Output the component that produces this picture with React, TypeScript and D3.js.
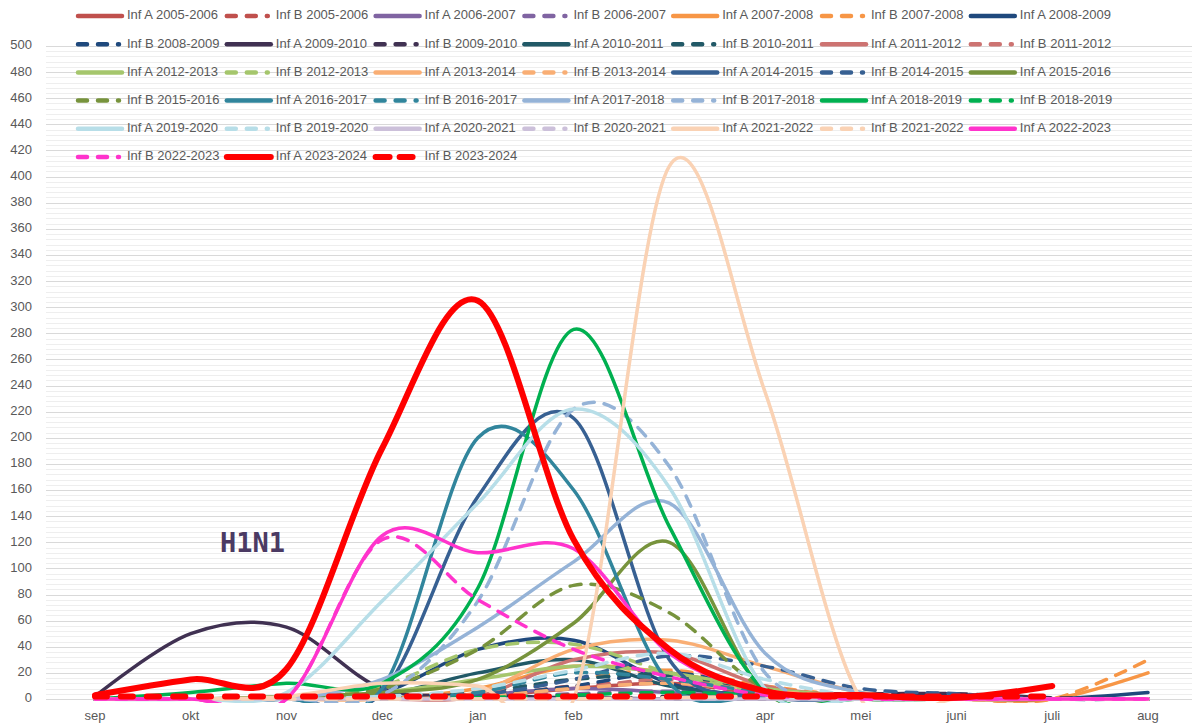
import React, { useEffect, useRef } from 'react';
import * as d3 from 'd3';

// months on the category axis (season runs sep -> aug)
const MONTHS = ['sep', 'okt', 'nov', 'dec', 'jan', 'feb', 'mrt', 'apr', 'mei', 'juni', 'juli', 'aug'];

const SEASONS = [
  '2005-2006', '2006-2007', '2007-2008', '2008-2009', '2009-2010', '2010-2011', '2011-2012',
  '2012-2013', '2013-2014', '2014-2015', '2015-2016', '2016-2017', '2017-2018', '2018-2019',
  '2019-2020', '2020-2021', '2021-2022', '2022-2023', '2023-2024',
];

const SEASON_COLORS = [
  '#C0504D', '#8064A2', '#F79646', '#1F497D', '#403152', '#215967', '#CD7371',
  '#A5C66C', '#F9AE74', '#376092', '#77933C', '#31859C', '#95B3D7', '#00B050',
  '#B7DEE8', '#CCC0DA', '#FAD2B4', '#FF33CC', '#FF0000',
];

const Y_TICKS = d3.range(0, 520, 20);

// values per month
const infA_0506 = [0, 0, 0, 0, 2, 8, 12, 5, 1, 0, 0, 0];
const infB_0506 = [0, 0, 0, 0, 1, 10, 12, 4, 1, 0, 0, 0];
const infA_0607 = [0, 0, 0, 0, 3, 8, 5, 1, 0, 0, 0, 0];
const infB_0607 = [0, 0, 0, 0, 1, 4, 6, 3, 1, 0, 0, 0];
const infA_0708 = [0, 0, 0, 0, 8, 25, 20, 8, 2, 0, 0, 20];
const infB_0708 = [0, 0, 0, 0, 3, 15, 22, 10, 2, 0, 0, 30];
const infA_0809 = [0, 0, 0, 5, 38, 45, 12, 2, 0, 0, 0, 5];
const infB_0809 = [0, 0, 0, 0, 2, 10, 20, 8, 2, 0, 0, 0];
const infA_0910 = [2, 50, 55, 8, 3, 1, 0, 0, 0, 0, 0, 0];
const infB_0910 = [0, 0, 0, 0, 0, 0, 2, 4, 4, 4, 1, 0];
const infA_1011 = [0, 0, 0, 3, 20, 30, 10, 2, 0, 0, 0, 0];
const infB_1011 = [0, 0, 0, 1, 5, 15, 18, 5, 1, 0, 0, 0];
const infA_1112 = [0, 0, 0, 0, 2, 30, 35, 10, 2, 0, 0, 0];
const infB_1112 = [0, 0, 0, 0, 1, 8, 15, 5, 1, 0, 0, 0];
const infA_1213 = [0, 0, 0, 5, 15, 25, 20, 8, 2, 0, 0, 0];
const infB_1213 = [0, 0, 0, 10, 38, 42, 20, 5, 1, 0, 0, 0];
const infA_1314 = [0, 0, 0, 0, 5, 38, 45, 25, 5, 0, 0, 0];
const infB_1314 = [0, 0, 0, 0, 2, 8, 12, 6, 2, 0, 0, 0];
const infA_1415 = [0, 0, 0, 5, 155, 215, 30, 2, 0, 0, 0, 0];
const infB_1415 = [0, 0, 0, 0, 3, 15, 33, 25, 8, 4, 0, 0];
const infA_1516 = [0, 0, 2, 5, 15, 58, 120, 5, 0, 0, 0, 0];
const infB_1516 = [0, 0, 0, 8, 38, 87, 66, 8, 0, 0, 0, 0];
const infA_1617 = [0, 0, 0, 8, 200, 160, 12, 2, 0, 0, 0, 0];
const infB_1617 = [0, 0, 0, 0, 5, 20, 15, 5, 1, 0, 0, 0];
const infA_1718 = [0, 0, 0, 15, 55, 105, 150, 35, 5, 0, 0, 0];
const infB_1718 = [0, 0, 0, 3, 75, 222, 178, 20, 2, 0, 0, 0];
const infA_1819 = [0, 5, 12, 12, 85, 283, 132, 6, 0, 0, 0, 0];
const infB_1819 = [0, 0, 0, 0, 1, 3, 5, 3, 1, 0, 0, 0];
const infA_1920 = [0, 0, 5, 75, 150, 222, 162, 8, 0, 0, 0, 0];
const infB_1920 = [0, 0, 0, 2, 8, 22, 35, 15, 2, 0, 0, 0];
const infA_2021 = [0, 0, 0, 0, 0, 0, 0, 0, 0, 0, 0, 0];
const infB_2021 = [0, 0, 0, 0, 0, 0, 0, 0, 0, 0, 0, 0];
const infA_2122 = [0, 0, 2, 12, 10, 0, 408, 235, 0, 0, 0, 0];
const infB_2122 = [0, 0, 0, 0, 0, 0, 1, 2, 1, 0, 0, 0];
const infA_2223 = [0, 0, 0, 125, 112, 115, 35, 6, 1, 0, 0, 0];
const infB_2223 = [0, 0, 0, 122, 76, 38, 17, 3, 0, 0, 0, 0];
const infA_2324 = [3, 15, 23, 192, 305, 122, 38, 6, 3, 1, 10];
const infB_2324 = [2, 2, 2, 2, 2, 2, 2, 2, 2, 2, 2];

const INF_A = [infA_0506, infA_0607, infA_0708, infA_0809, infA_0910, infA_1011, infA_1112, infA_1213,
  infA_1314, infA_1415, infA_1516, infA_1617, infA_1718, infA_1819, infA_1920, infA_2021, infA_2122,
  infA_2223, infA_2324];
const INF_B = [infB_0506, infB_0607, infB_0708, infB_0809, infB_0910, infB_1011, infB_1112, infB_1213,
  infB_1314, infB_1415, infB_1516, infB_1617, infB_1718, infB_1819, infB_1920, infB_2021, infB_2122,
  infB_2223, infB_2324];

interface Series {
  name: string;
  color: string;
  dashed: boolean;
  heavy: boolean;
  values: number[];
}

const SERIES: Series[] = SEASONS.flatMap((s, i) => [
  { name: `Inf A ${s}`, color: SEASON_COLORS[i], dashed: false, heavy: s === '2023-2024', values: INF_A[i] },
  { name: `Inf B ${s}`, color: SEASON_COLORS[i], dashed: true, heavy: s === '2023-2024', values: INF_B[i] },
]);

const W = 1192, H = 727;
const FONT = '"Liberation Sans", Arial, sans-serif';

const App: React.FC = () => {
  const ref = useRef<SVGSVGElement>(null);

  useEffect(() => {
    if (!ref.current) return;
    const svg = d3.select(ref.current);
    svg.selectAll('*').remove();

    const x = d3.scalePoint<string>().domain(MONTHS).range([95, 1148]);
    const y = d3.scaleLinear().domain([0, 500]).range([699, 46]);

    svg.append('rect').attr('width', W).attr('height', H).attr('fill', '#fff');

    // minor + major gridlines
    const grid = svg.append('g');
    grid.selectAll('line.minor')
      .data(d3.range(0, 501, 4).filter(v => v % 20 !== 0))
      .enter().append('line')
      .attr('x1', 46).attr('x2', W)
      .attr('y1', d => Math.round(y(d)) + 0.5).attr('y2', d => Math.round(y(d)) + 0.5)
      .attr('stroke', '#EEEEEE').attr('stroke-width', 1);
    grid.selectAll('line.major')
      .data(Y_TICKS)
      .enter().append('line')
      .attr('x1', 46).attr('x2', W)
      .attr('y1', d => Math.round(y(d)) + 0.5).attr('y2', d => Math.round(y(d)) + 0.5)
      .attr('stroke', '#D9D9D9').attr('stroke-width', 1);

    // axis labels
    svg.append('g').selectAll('text')
      .data(Y_TICKS)
      .enter().append('text')
      .attr('x', 32).attr('y', d => y(d))
      .attr('text-anchor', 'end').attr('dominant-baseline', 'middle')
      .attr('font-family', FONT).attr('font-size', 13).attr('fill', '#595959')
      .text(d => d);
    svg.append('g').selectAll('text')
      .data(MONTHS)
      .enter().append('text')
      .attr('x', d => x(d) as number).attr('y', 717)
      .attr('text-anchor', 'middle').attr('dominant-baseline', 'middle')
      .attr('font-family', FONT).attr('font-size', 13).attr('fill', '#595959')
      .text(d => d);

    svg.append('defs').append('clipPath').attr('id', 'plot-clip')
      .append('rect').attr('x', 46).attr('y', 40).attr('width', W - 46).attr('height', 663);

    const line = d3.line<number>()
      .x((_, i) => x(MONTHS[i]) as number)
      .y(d => y(d))
      .curve(d3.curveCardinal.tension(0));

    const plot = svg.append('g').attr('clip-path', 'url(#plot-clip)');
    plot.selectAll('path')
      .data(SERIES)
      .enter().append('path')
      .attr('d', d => line(d.values))
      .attr('fill', 'none')
      .attr('stroke', d => d.color)
      .attr('stroke-width', d => (d.heavy ? 6 : 3.5))
      .attr('stroke-linecap', 'round')
      .attr('stroke-linejoin', 'round')
      .attr('stroke-dasharray', d => (d.dashed ? (d.heavy ? '12 14' : '11 10') : null));

    svg.append('text')
      .attr('x', 220).attr('y', 552)
      .attr('font-family', '"DejaVu Sans Mono", monospace').attr('font-weight', 'bold')
      .attr('font-size', 27).attr('fill', '#4B3A63')
      .text('H1N1');

    // legend, 7 per row
    const legend = svg.append('g');
    const item = legend.selectAll('g')
      .data(SERIES)
      .enter().append('g')
      .attr('transform', (_, i) => `translate(${127 + (i % 7) * 148.8},${16 + Math.floor(i / 7) * 28.2})`);
    item.append('line')
      .attr('x1', -49).attr('x2', d => (d.dashed ? (d.heavy ? -12 : -8) : -5))
      .attr('y1', 0).attr('y2', 0)
      .attr('stroke', d => d.color)
      .attr('stroke-width', d => (d.heavy ? 6 : 4.5))
      .attr('stroke-linecap', 'round')
      .attr('stroke-dasharray', d => (d.dashed ? (d.heavy ? '14 10' : '9 11') : null));
    item.append('text')
      .attr('x', 0).attr('y', 0)
      .attr('dominant-baseline', 'middle')
      .attr('font-family', FONT).attr('font-size', 13).attr('fill', '#595959')
      .text(d => d.name);
  }, []);

  return (
    <svg ref={ref} width={W} height={H} style={{ position: 'absolute', left: 0, top: 0, display: 'block' }} />
  );
};

export default App;
